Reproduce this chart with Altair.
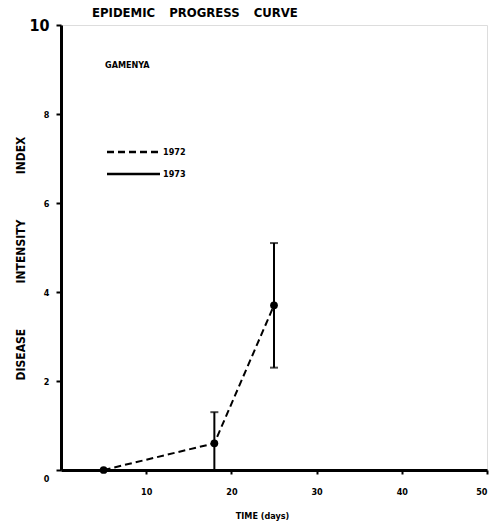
import altair as alt
import pandas as pd

# Data
days = [5, 18, 25]
intensity = [0.0, 0.6, 3.7]
years = ["1972", "1972", "1972"]

bar_days = [18, 25]
bar_low = [0.0, 2.3]
bar_high = [1.3, 5.1]

legend_years = ["1972", "1973"]
legend_dashes = [[7, 4], [1, 0]]
x_ticks = [10, 20, 30, 40, 50]
y_ticks = [0, 2, 4, 6, 8, 10]

FONT = "Liberation Sans Narrow, DejaVu Sans Condensed, Liberation Sans, sans-serif"
GAP = "\u2003\u2003\u2003\u2003\u2009"

pts = pd.DataFrame({"day": days, "idx": intensity, "year": years})
bars = pd.DataFrame({"day": bar_days, "low": bar_low, "high": bar_high})

x_scale = alt.Scale(domain=[0, 50], nice=False, zero=True)
y_scale = alt.Scale(domain=[0, 10], nice=False)
dash_scale = alt.Scale(domain=legend_years, range=legend_dashes)

x_axis = alt.Axis(
    values=x_ticks, title="TIME (days)", grid=False,
    domainColor="black", domainWidth=3, tickColor="black", tickWidth=2, tickSize=4,
    labelFont=FONT, labelFontWeight="bold", labelFontSize=9, labelPadding=13,
    labelColor="black",
    titleFont=FONT, titleFontWeight="bold", titleFontSize=9, titleColor="black",
    titleX=201, titleY=41, titleAnchor="middle", titleAlign="center",
)
y_axis = alt.Axis(
    values=y_ticks, title=f"DISEASE{GAP}INTENSITY{GAP}INDEX", grid=False,
    domainColor="black", domainWidth=3, tickColor="black", tickWidth=2, tickSize=5,
    labelFont=FONT, labelFontWeight="bold",
    labelFontSize={"condition": {"test": "datum.value == 10", "value": 16}, "value": 9},
    labelOffset={"condition": {"test": "datum.value == 0", "value": 8}, "value": 0},
    labelPadding=7, labelColor="black",
    titleFont=FONT, titleFontWeight="bold", titleFontSize=12, titleColor="black",
    titleX=-41, titleY=233, titleAngle=-90, titleAlign="center", titleBaseline="middle",
)

line = alt.Chart(pts).mark_line(color="black", strokeWidth=2).encode(
    x=alt.X("day:Q", scale=x_scale, axis=x_axis),
    y=alt.Y("idx:Q", scale=y_scale, axis=y_axis),
    strokeDash=alt.StrokeDash("year:N", scale=dash_scale, legend=None),
)

points = alt.Chart(pts).mark_circle(color="black", size=60, opacity=1).encode(
    x="day:Q", y="idx:Q"
)

rules = alt.Chart(bars).mark_rule(color="black", strokeWidth=2).encode(
    x="day:Q", y="low:Q", y2="high:Q"
)
cap_hi = alt.Chart(bars).mark_tick(color="black", orient="horizontal", size=8, thickness=2).encode(
    x="day:Q", y="high:Q"
)
cap_lo = alt.Chart(bars).mark_tick(color="black", orient="horizontal", size=8, thickness=2).encode(
    x="day:Q", y="low:Q"
)

# Hand-placed legend rows (22 px apart)
legend_layers = []
for i, (yr, dash) in enumerate(zip(legend_years, legend_dashes)):
    row_y = 127 + 22 * i
    df = pd.DataFrame({"year": [yr]})
    legend_layers.append(
        alt.Chart(df).mark_rule(color="black", strokeWidth=2.5, strokeDash=dash).encode(
            x=alt.value(46), x2=alt.value(99), y=alt.value(row_y)
        )
    )
    legend_layers.append(
        alt.Chart(df).mark_text(
            font=FONT, fontWeight="bold", fontSize=9, align="left", baseline="middle",
            color="black",
        ).encode(x=alt.value(102), y=alt.value(row_y), text="year:N")
    )

label = alt.Chart(pd.DataFrame({"t": ["GAMENYA"]})).mark_text(
    font=FONT, fontWeight="bold", fontSize=9, align="left", baseline="middle", color="black"
).encode(x=alt.value(44), y=alt.value(40), text="t:N")

chart = alt.layer(rules, cap_hi, cap_lo, line, points, label, *legend_layers).properties(
    width=426, height=445,
    autosize=alt.AutoSizeParams(type="none"),
    padding={"left": 61, "top": 25, "right": 8, "bottom": 62},
    title=alt.TitleParams(
        "EPIDEMIC\u2003\u2009PROGRESS\u2003\u2009CURVE", anchor="start", frame="group",
        dx=31, dy=9, offset=6, font=FONT, fontWeight="bold", fontSize=13, color="black",
    ),
).configure_view(strokeWidth=0).configure(background="white")

chart.save("out.html", embed_options={"renderer": "svg", "actions": False})
